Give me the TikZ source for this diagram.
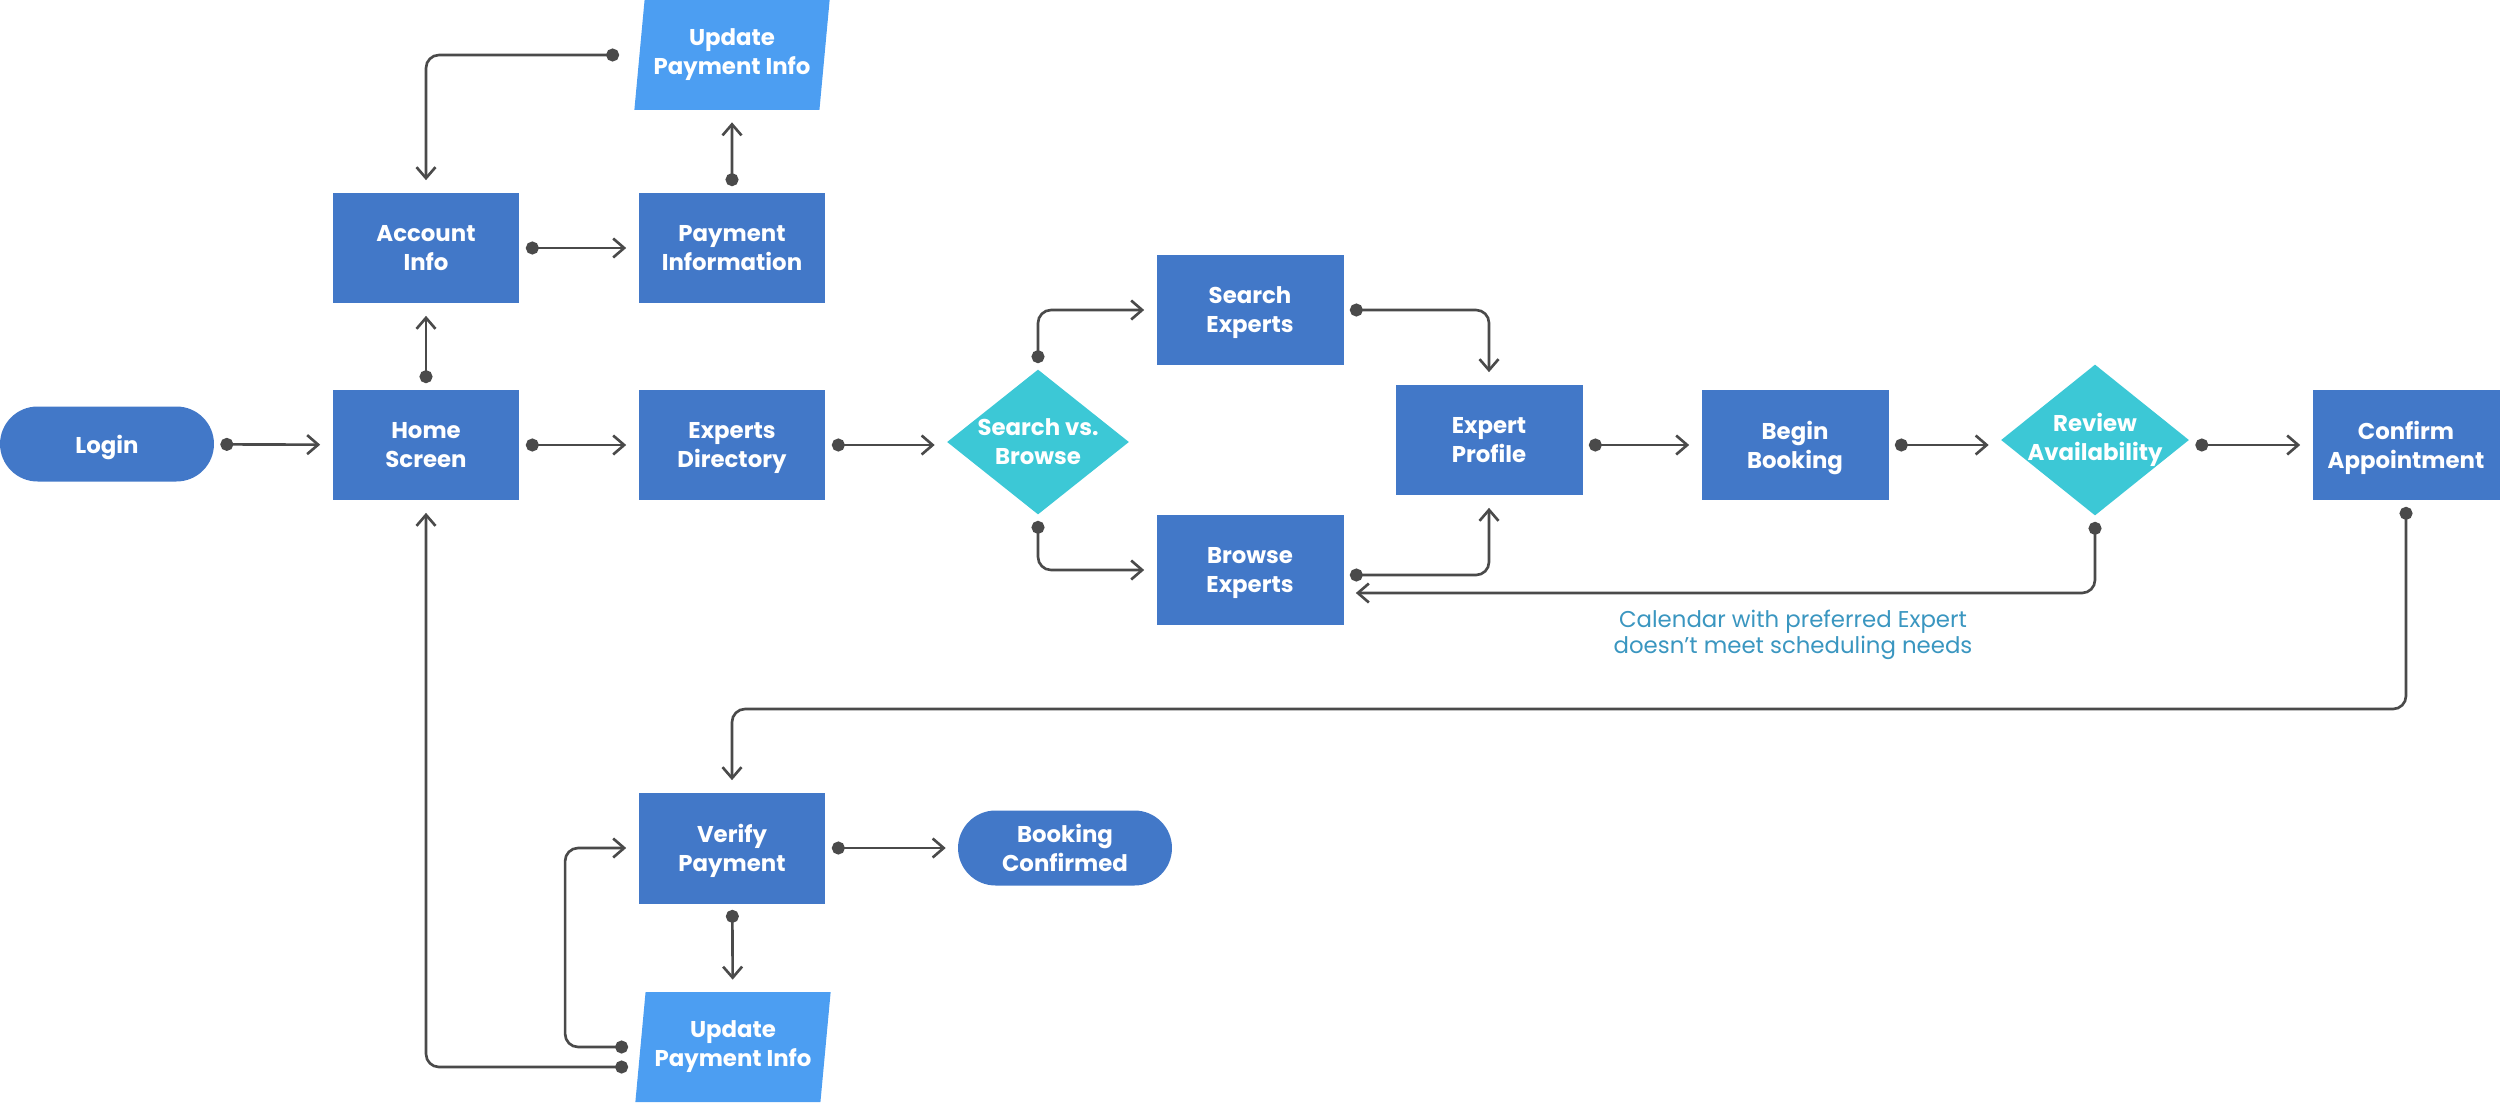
\documentclass[tikz,border=0pt]{standalone}
\usepackage{fontspec}
\setmainfont{Poppins}
\usetikzlibrary{arrows.meta,shapes.geometric}

\definecolor{boxblue}{RGB}{66,120,200}
\definecolor{inputblue}{RGB}{76,158,242}
\definecolor{choiceteal}{RGB}{60,200,214}
\definecolor{wiregray}{RGB}{74,74,74}
\definecolor{notetext}{RGB}{58,150,192}

\tikzset{
  tile/.style={rectangle, fill=boxblue, text=white, align=center,
    font=\bfseries\fontsize{13}{16.5}\selectfont,
    minimum width=3.74cm, minimum height=2.22cm, inner sep=0pt},
  screen/.style={tile, text depth=-5pt},
  terminal/.style={screen, rounded corners=0.75cm, minimum width=4.28cm, minimum height=1.5cm},
  inputbox/.style={tile, trapezium, trapezium left angle=80, trapezium right angle=100,
    trapezium stretches=true, fill=inputblue, minimum width=3.92cm, minimum height=2.2cm},
  choice/.style={diamond, fill=choiceteal, inner sep=0pt},
  choicetext/.style={text=white, align=center, font=\bfseries\fontsize{13}{16.5}\selectfont},
  note/.style={text=notetext, align=center, font=\fontsize{13}{14.5}\selectfont},
  link/.style={draw=wiregray, line width=1.5pt, rounded corners=0.26cm,
    {Circle[length=0.26cm]}-{Straight Barb[length=0.22cm, width=0.38cm]},
    shorten <=0.12cm, shorten >=0.24cm},
}

\begin{document}
\begin{tikzpicture}[x=0.02cm, y=-0.02cm]
\useasboundingbox (0,0) rectangle (2500,1102);

% --- Inicio y cuenta ---
\node[terminal] (login) at (107,444) {Login};
\node[screen] (home) at (426,445) {Home\\Screen};
\node[screen] (account) at (426,248) {Account\\Info};
\node[screen] (payinfo) at (732,248) {Payment\\Information};
\node[inputbox] (updtop) at (732,55) {Update\\Payment Info};

\draw[link] (login) -- (home);
\draw[link] (home) -- (account);
\draw[link] (account) -- (payinfo);
\draw[link] (payinfo) -- (updtop);
\draw[link] ([xshift=-0.28cm]updtop.west) -| (account);

% --- Busqueda de expertos ---
\node[screen] (directory) at (732,445) {Experts\\Directory};
\node[choice, minimum width=3.64cm, minimum height=2.9cm] (searchbrowse) at (1038,442) {};
\node[choicetext] at (searchbrowse) {Search vs.\\Browse};
\node[screen] (search) at (1250,310) {Search\\Experts};
\node[screen] (browse) at (1250,570) {Browse\\Experts};
\node[screen] (profile) at (1489,440) {Expert\\Profile};

\draw[link] (home) -- (directory);
\draw[link] (directory) -- (directory -| searchbrowse.west);
\draw[link] (searchbrowse) |- (search);
\draw[link] (searchbrowse) |- (browse);
\draw[link] (search) -| (profile);
\draw[link] ([yshift=-0.1cm]browse.east) -| (profile);

% --- Reserva ---
\node[screen] (booking) at (1795,445) {Begin\\Booking};
\node[choice, minimum width=3.76cm, minimum height=3.02cm] (review) at (2095,440) {};
\node[choicetext] at (review) {Review\\Availability};
\node[screen] (confirm) at (2406,445) {Confirm\\Appointment};
\node[note] (calnote) at (1793,635) {Calendar with preferred Expert\\doesn’t meet scheduling needs};

\draw[link] (profile.east |- booking) -- (booking);
\draw[link] (booking) -- (booking -| review.west);
\draw[link] (review.east |- confirm) -- (confirm);
\draw[link] (review) |- ([yshift=-0.46cm]browse.east);

% --- Pago ---
\coordinate (lane) at (0,709);
\node[screen] (verify) at (732,848) {Verify\\Payment};
\node[terminal] (confirmed) at (1065,848) {Booking\\Confirmed};
\node[inputbox] (updbot) at (733,1047) {Update\\Payment Info};

\draw[link] (confirm) -- (confirm |- lane) -| (verify);
\draw[link] (verify) -- (confirmed);
\draw[link] (verify) -- (updbot);
\draw[link] ([xshift=-0.12cm]updbot.west) -- ++(-69,0) |- (verify);
\draw[link] ([xshift=-0.12cm, yshift=-0.4cm]updbot.west) -| (home);

\end{tikzpicture}
\end{document}
